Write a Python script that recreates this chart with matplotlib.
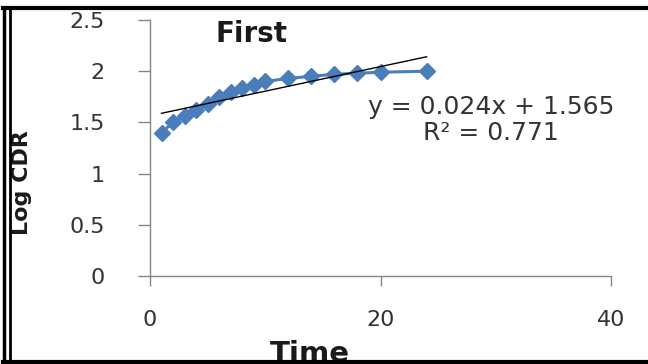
import matplotlib
matplotlib.use("Agg")
import matplotlib.pyplot as plt
from matplotlib.lines import Line2D
import numpy as np

# values
time = [1, 2, 3, 4, 5, 6, 7, 8, 9, 10, 12, 14, 16, 18, 20, 24]
log_cdr = [1.40, 1.50, 1.56, 1.62, 1.68, 1.75, 1.80, 1.84, 1.87, 1.90,
           1.93, 1.95, 1.97, 1.98, 1.99, 2.00]

# trendline as printed on the chart
slope = 0.024
intercept = 1.565
r_squared = 0.771

x_ticks = [0, 20, 40]
y_ticks = [0, 0.5, 1, 1.5, 2, 2.5]
y_tick_labels = ["0", "0.5", "1", "1.5", "2", "2.5"]

W, H = 648, 364
fig = plt.figure(figsize=(W / 100, H / 100), dpi=100)
ax = fig.add_axes([150 / W, 1 - 276 / H, (611 - 150) / W, (276 - 20) / H])

blue = "#4a7ebb"
grey = "#868686"

ax.plot(time, log_cdr, color=blue, lw=2.2, marker="D", ms=8,
        markerfacecolor=blue, markeredgecolor=blue, zorder=3)

tx = np.array([time[0], time[-1]])
ax.plot(tx, slope * tx + intercept, color="black", lw=1.0, zorder=4)

ax.set_xlim(0, 40)
ax.set_ylim(0, 2.5)
ax.set_xticks(x_ticks)
ax.set_yticks(y_ticks)
ax.set_yticklabels(y_tick_labels)

for side in ["top", "right"]:
    ax.spines[side].set_visible(False)
for side in ["left", "bottom"]:
    ax.spines[side].set_color(grey)
    ax.spines[side].set_linewidth(1.0)

ax.tick_params(axis="y", direction="out", length=8.6, width=1.0, color=grey,
               pad=24, labelsize=16, labelcolor="#333333")
ax.tick_params(axis="x", direction="out", length=7.5, width=1.0, color=grey,
               pad=17, labelsize=16, labelcolor="#333333")

fig.text(251 / W, 1 - 34 / H, "First", ha="center", va="center",
         fontsize=20, fontweight="bold", color="#1a1a1a")
fig.text(491 / W, 1 - 120 / H,
         "y = %.3fx + %.3f\nR² = %.3f" % (slope, intercept, r_squared),
         ha="center", va="center", fontsize=18, color="#333333",
         linespacing=1.1)
fig.text(22 / W, 1 - 183 / H, "Log CDR", rotation=90, ha="center",
         va="center", fontsize=16, fontweight="bold", color="#1a1a1a")
fig.text(310 / W, 1 - 340 / H, "Time", ha="center", va="top",
         fontsize=21, fontweight="bold", color="#1a1a1a")

# frame around the picture
def frame_line(xs, ys, lw):
    fig.add_artist(Line2D([x / W for x in xs], [1 - y / H for y in ys],
                          color="black", lw=lw, zorder=10,
                          transform=fig.transFigure))

frame_line([3, W], [8, 8], 3.0)
frame_line([4, 4], [8, H], 2.5)
frame_line([9.5, 9.5], [8, H], 2.0)
frame_line([3, W], [361.5, 361.5], 3.0)

fig.savefig("out.png", dpi=100, facecolor="white")
